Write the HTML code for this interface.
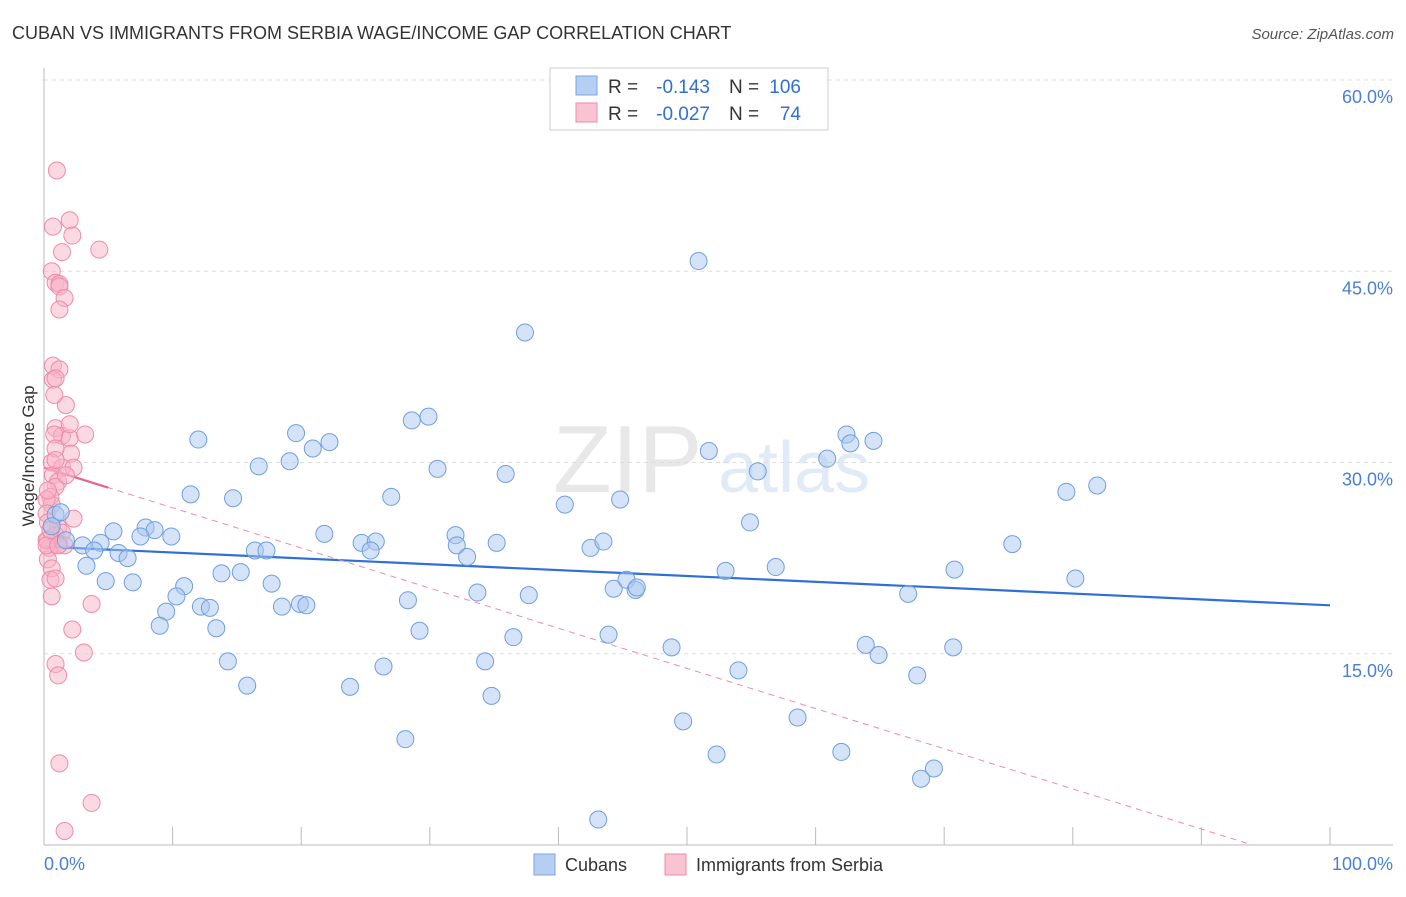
<!DOCTYPE html>
<html><head><meta charset="utf-8"><style>
body{margin:0;background:#fff;font-family:"Liberation Sans",sans-serif;}
svg text{font-family:"Liberation Sans",sans-serif;}
</style></head><body>
<svg id="chart" width="1406" height="892" xmlns="http://www.w3.org/2000/svg">
<text x="12" y="39" font-size="18" fill="#333">CUBAN VS IMMIGRANTS FROM SERBIA WAGE/INCOME GAP CORRELATION CHART</text>
<text x="1394" y="39" font-size="15" fill="#555" text-anchor="end" font-style="italic">Source: ZipAtlas.com</text>
<g opacity="0.22">
<text x="553" y="492" font-size="96" font-family="Liberation Serif,serif" fill="#999">ZIP</text>
<text x="718" y="492" font-size="72" fill="#7aa6e0">atlas</text>
</g>
<g id="grid"></g>
<g id="axes"></g>
<g id="trends"></g>
<g id="points"></g>
<text x="34" y="456" font-size="17" fill="#333" text-anchor="middle" transform="rotate(-90 34 456)">Wage/Income Gap</text>
<text x="44" y="870" font-size="18" fill="#4a7fd6">0.0%</text>
<text x="1393" y="870" font-size="18" fill="#4a7fd6" text-anchor="end">100.0%</text>
<g>
<rect x="550" y="68" width="278" height="62" fill="#fff" stroke="#ccc"/>
<rect x="576" y="76" width="21" height="19" fill="#b4cff2" stroke="#7aa6e0"/>
<text x="608" y="93" font-size="19" fill="#333">R =</text>
<text x="710" y="93" font-size="19" fill="#2f6fd6" text-anchor="end">-0.143</text>
<text x="729" y="93" font-size="19" fill="#333">N =</text>
<text x="801" y="93" font-size="19" fill="#2f6fd6" text-anchor="end">106</text>
<rect x="576" y="103" width="21" height="19" fill="#f9c3d2" stroke="#f08aaa"/>
<text x="608" y="120" font-size="19" fill="#333">R =</text>
<text x="710" y="120" font-size="19" fill="#2f6fd6" text-anchor="end">-0.027</text>
<text x="729" y="120" font-size="19" fill="#333">N =</text>
<text x="801" y="120" font-size="19" fill="#2f6fd6" text-anchor="end">74</text>
</g>
<g>
<rect x="534" y="854" width="21" height="21" fill="#b4cff2" stroke="#7aa6e0"/>
<text x="565" y="871" font-size="18" fill="#333">Cubans</text>
<rect x="665" y="854" width="21" height="21" fill="#f9c3d2" stroke="#f08aaa"/>
<text x="696" y="871" font-size="18" fill="#333">Immigrants from Serbia</text>
</g>
</svg>
<script>
const yTicks=[15,30,45,60];
const yTickLabels=["15.0%","30.0%","45.0%","60.0%"];
const xTicks=[10,20,30,40,50,60,70,80,90,100];
const cubanX=[50.9,37.4,28.6,29.9,12.0,19.6,20.9,22.2,19.1,16.7,30.6,35.9,11.4,14.7,27.0,40.5,44.8,51.7,55.5,60.9,62.4,62.7,64.5,79.5,81.9,54.9,5.4,7.9,8.6,9.9,7.5,4.4,3.0,3.9,5.8,6.5,3.3,1.7,0.9,1.3,0.6,21.8,24.7,25.8,25.4,32.0,32.1,35.2,32.9,42.5,43.5,16.4,17.3,4.8,6.9,10.9,10.3,13.8,15.3,17.7,19.9,20.4,18.5,12.2,12.9,9.5,9.0,13.4,28.3,33.7,37.7,44.3,45.3,46.0,46.1,53.0,56.9,67.2,70.8,75.3,80.2,29.2,36.5,43.9,48.8,63.9,64.9,70.7,14.3,26.4,34.3,54.0,67.9,15.8,23.8,34.8,49.7,58.6,28.1,52.3,62.0,69.2,68.2,43.1];
const cubanY=[45.8,40.2,33.3,33.6,31.8,32.3,31.1,31.6,30.1,29.7,29.5,29.1,27.5,27.2,27.3,26.7,27.1,30.9,29.3,30.3,32.2,31.5,31.7,27.7,28.2,25.3,24.6,24.9,24.7,24.2,24.2,23.7,23.5,23.1,22.9,22.5,21.9,23.9,25.9,26.1,25.0,24.4,23.7,23.8,23.1,24.3,23.5,23.7,22.6,23.3,23.8,23.1,23.1,20.7,20.6,20.3,19.5,21.3,21.4,20.5,18.9,18.8,18.7,18.7,18.6,18.3,17.2,17.0,19.2,19.8,19.6,20.1,20.8,20.0,20.2,21.5,21.8,19.7,21.6,23.6,20.9,16.8,16.3,16.5,15.5,15.7,14.9,15.5,14.4,14.0,14.4,13.7,13.3,12.5,12.4,11.7,9.7,10.0,8.3,7.1,7.3,6.0,5.2,2.0];
const serbiaX=[1.0,2.0,0.7,2.2,1.4,4.3,0.6,0.9,1.2,1.2,1.6,1.2,0.7,1.2,0.7,0.9,1.7,0.8,0.9,1.4,0.8,2.0,3.2,2.1,0.9,0.6,1.4,2.3,0.7,1.1,0.9,0.5,0.6,0.2,0.2,2.3,0.3,1.1,0.9,0.3,1.4,1.2,0.4,0.3,0.6,0.5,0.9,0.6,3.7,2.2,3.1,0.9,1.1,1.2,3.7,1.6,0.2,0.2,0.5,1.7,2.0,0.9,0.3,1.6,1.1];
const serbiaY=[52.9,49.0,48.5,47.8,46.5,46.7,45.0,44.1,44.0,43.8,42.9,42.0,37.6,37.3,36.5,36.6,34.5,35.3,32.7,32.1,32.2,31.9,32.2,30.7,31.1,30.0,29.6,29.6,29.0,28.5,28.1,27.3,26.7,27.1,26.0,25.6,25.3,24.9,24.3,23.9,24.5,23.6,23.3,22.4,21.7,20.8,20.9,19.5,18.9,16.9,15.1,14.2,13.3,6.4,3.3,1.1,23.9,23.5,24.7,29.0,33.0,30.2,27.8,23.5,23.5];
const cubanTrend=[23.4,18.8];       // y at x=0, y at x=100
const serbiaTrend=[29.6,-0.315,5];  // intercept, slope, solid extent
const NS="http://www.w3.org/2000/svg";
const X0=44,X1=1330,YB=845,YS=12.75;
const sx=v=>X0+(X1-X0)*v/100;
const sy=v=>YB-v*YS;
function mk(tag,attrs,parent){const e=document.createElementNS(NS,tag);for(const k in attrs)e.setAttribute(k,attrs[k]);document.getElementById(parent).appendChild(e);return e;}
yTicks.forEach((t,i)=>{
  const l=mk('line',{x1:X0,x2:1393,y1:sy(t),y2:sy(t),stroke:'#ddd','stroke-dasharray':'4,4'},'grid');
  
  
  const tx=mk('text',{x:1393,y:sy(t)+23,'font-size':18,fill:'#4a7fd6','text-anchor':'end'},'grid');
  tx.textContent=yTickLabels[i];
  
  
});
const ya=mk('line',{x1:X0,x2:X0,y1:68,y2:YB,stroke:'#bbb'},'axes');


const xa=mk('line',{x1:X0,x2:1393,y1:YB,y2:YB,stroke:'#bbb'},'axes');


xTicks.forEach(t=>{
  const k=mk('line',{x1:sx(t),x2:sx(t),y1:827,y2:YB,stroke:'#bbb'},'axes');
  
  
});
function dots(xs,ys,fill,stroke,name){
  xs.forEach((v,i)=>{
    const c=mk('circle',{cx:sx(v),cy:sy(ys[i]),r:8.5,fill:fill,'fill-opacity':0.5,stroke:stroke,'stroke-width':1},'points');
    
    
  });
}
dots(serbiaX,serbiaY,'#f7b3c6','#f08aaa','serbia-point');
dots(cubanX,cubanY,'#a9c7f0','#6f9fe0','cuban-point');
const bt=mk('line',{x1:sx(0),y1:sy(cubanTrend[0]),x2:sx(100),y2:sy(cubanTrend[1]),stroke:'#2f6fd6','stroke-width':2.2},'trends');


const pEnd=-serbiaTrend[0]/serbiaTrend[1];
const pd=mk('line',{x1:sx(0),y1:sy(serbiaTrend[0]),x2:sx(pEnd),y2:sy(0),stroke:'#f08aaa','stroke-width':1,'stroke-dasharray':'6,5'},'trends');


const ps=mk('line',{x1:sx(0),y1:sy(serbiaTrend[0]),x2:sx(serbiaTrend[2]),y2:sy(serbiaTrend[0]+serbiaTrend[1]*serbiaTrend[2]),stroke:'#e8648c','stroke-width':2.2},'trends');


</script>
</body></html>
